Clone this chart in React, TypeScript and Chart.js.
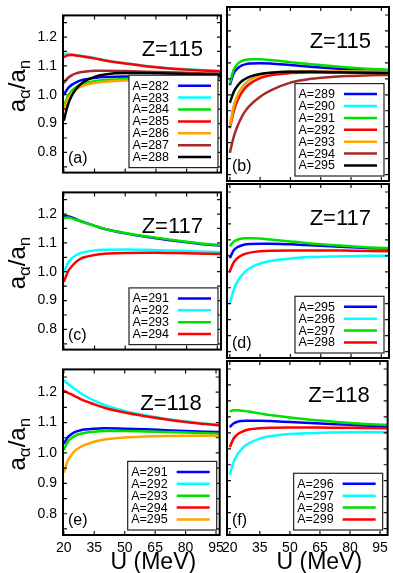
import React, { useEffect, useRef } from 'react';
import { Chart, registerables } from 'chart.js';

Chart.register(...registerables);

const FONT = '"Liberation Sans", Arial, Helvetica, sans-serif';

// Excitation energy grid (MeV) shared by every curve
const U_MEV = [20, 22, 24, 26, 28, 30, 35, 40, 50, 60, 70, 80, 90, 100];
const U_TICKS = [20, 35, 50, 65, 80, 95];
const RATIO_LABELS = [0.8, 0.9, 1.0, 1.1, 1.2];
const RATIO_MARKS = [0.75, 0.8, 0.85, 0.9, 0.95, 1.0, 1.05, 1.1, 1.15, 1.2, 1.25];

// (a) Z=115, lighter isotopes
const MASSES_A = [282, 283, 284, 285, 286, 287, 288];
const Z115_A282 = [1.000, 1.022, 1.035, 1.043, 1.049, 1.053, 1.058, 1.061, 1.063, 1.063, 1.063, 1.062, 1.062, 1.061];
const Z115_A283 = [1.140, 1.142, 1.140, 1.137, 1.135, 1.133, 1.127, 1.120, 1.109, 1.100, 1.093, 1.088, 1.084, 1.081];
const Z115_A284 = [0.960, 0.995, 1.015, 1.027, 1.035, 1.040, 1.047, 1.051, 1.054, 1.055, 1.056, 1.056, 1.056, 1.056];
const Z115_A285 = [1.130, 1.137, 1.138, 1.136, 1.134, 1.132, 1.126, 1.119, 1.108, 1.099, 1.092, 1.087, 1.083, 1.080];
const Z115_A286 = [0.948, 0.985, 1.005, 1.018, 1.027, 1.033, 1.041, 1.045, 1.049, 1.050, 1.051, 1.051, 1.051, 1.051];
const Z115_A287 = [1.040, 1.058, 1.068, 1.074, 1.078, 1.080, 1.083, 1.083, 1.082, 1.080, 1.078, 1.076, 1.074, 1.073];
const Z115_A288 = [0.910, 0.965, 0.998, 1.020, 1.035, 1.046, 1.062, 1.070, 1.075, 1.075, 1.074, 1.072, 1.070, 1.069];

// (b) Z=115, heavier isotopes
const MASSES_B = [289, 290, 291, 292, 293, 294, 295];
const Z115_A289 = [1.030, 1.068, 1.084, 1.092, 1.096, 1.098, 1.099, 1.098, 1.093, 1.088, 1.083, 1.079, 1.076, 1.074];
const Z115_A290 = [0.905, 0.967, 1.001, 1.023, 1.037, 1.047, 1.061, 1.068, 1.073, 1.074, 1.074, 1.073, 1.072, 1.071];
const Z115_A291 = [1.035, 1.080, 1.098, 1.106, 1.110, 1.111, 1.111, 1.109, 1.102, 1.096, 1.090, 1.085, 1.081, 1.078];
const Z115_A292 = [0.895, 0.950, 0.985, 1.008, 1.024, 1.035, 1.052, 1.061, 1.068, 1.070, 1.070, 1.070, 1.069, 1.068];
const Z115_A293 = [0.900, 0.965, 1.000, 1.022, 1.037, 1.047, 1.061, 1.068, 1.073, 1.074, 1.074, 1.073, 1.072, 1.071];
const Z115_A294 = [0.818, 0.870, 0.905, 0.932, 0.952, 0.967, 0.994, 1.013, 1.038, 1.050, 1.056, 1.059, 1.061, 1.062];
const Z115_A295 = [0.975, 1.010, 1.030, 1.043, 1.051, 1.057, 1.065, 1.069, 1.072, 1.072, 1.071, 1.070, 1.069, 1.068];

// (c) Z=117
const MASSES_C = [291, 292, 293, 294];
const Z117_A291 = [1.193, 1.192, 1.188, 1.182, 1.176, 1.171, 1.159, 1.148, 1.133, 1.121, 1.111, 1.102, 1.094, 1.088];
const Z117_A292 = [0.997, 1.030, 1.047, 1.057, 1.064, 1.068, 1.074, 1.076, 1.077, 1.076, 1.074, 1.072, 1.069, 1.067];
const Z117_A293 = [1.186, 1.188, 1.185, 1.180, 1.175, 1.170, 1.159, 1.148, 1.134, 1.123, 1.113, 1.104, 1.096, 1.090];
const Z117_A294 = [0.965, 1.000, 1.020, 1.034, 1.044, 1.050, 1.058, 1.062, 1.065, 1.066, 1.065, 1.064, 1.062, 1.061];

// (d) Z=117
const MASSES_D = [295, 296, 297, 298];
const Z117_A295 = [1.043, 1.068, 1.078, 1.083, 1.086, 1.087, 1.088, 1.088, 1.086, 1.083, 1.080, 1.077, 1.074, 1.072];
const Z117_A296 = [0.900, 0.945, 0.972, 0.990, 1.003, 1.012, 1.026, 1.034, 1.042, 1.046, 1.048, 1.049, 1.050, 1.050];
const Z117_A297 = [1.080, 1.095, 1.101, 1.104, 1.105, 1.105, 1.104, 1.101, 1.095, 1.089, 1.084, 1.080, 1.076, 1.074];
const Z117_A298 = [1.002, 1.030, 1.044, 1.052, 1.057, 1.060, 1.064, 1.066, 1.067, 1.067, 1.067, 1.066, 1.065, 1.064];

// (e) Z=118
const MASSES_E = [291, 292, 293, 294, 295];
const Z118_A291 = [1.030, 1.052, 1.063, 1.070, 1.074, 1.077, 1.080, 1.081, 1.080, 1.078, 1.075, 1.072, 1.070, 1.068];
const Z118_A292 = [1.240, 1.228, 1.218, 1.208, 1.198, 1.190, 1.172, 1.158, 1.138, 1.124, 1.113, 1.104, 1.096, 1.090];
const Z118_A293 = [1.010, 1.037, 1.050, 1.058, 1.063, 1.066, 1.070, 1.072, 1.072, 1.071, 1.069, 1.067, 1.065, 1.063];
const Z118_A294 = [1.205, 1.198, 1.192, 1.185, 1.178, 1.172, 1.160, 1.149, 1.133, 1.121, 1.111, 1.102, 1.095, 1.088];
const Z118_A295 = [0.935, 0.975, 0.996, 1.010, 1.019, 1.026, 1.037, 1.044, 1.051, 1.054, 1.056, 1.057, 1.057, 1.057];

// (f) Z=118
const MASSES_F = [296, 297, 298, 299];
const Z118_A296 = [1.068, 1.080, 1.085, 1.087, 1.088, 1.088, 1.088, 1.087, 1.084, 1.081, 1.078, 1.075, 1.072, 1.070];
const Z118_A297 = [0.918, 0.960, 0.984, 1.000, 1.011, 1.019, 1.032, 1.039, 1.046, 1.049, 1.051, 1.052, 1.052, 1.052];
const Z118_A298 = [1.117, 1.121, 1.121, 1.119, 1.118, 1.116, 1.111, 1.106, 1.098, 1.091, 1.086, 1.081, 1.077, 1.074];
const Z118_A299 = [1.005, 1.033, 1.046, 1.053, 1.058, 1.061, 1.064, 1.066, 1.067, 1.067, 1.066, 1.066, 1.065, 1.064];

const LINE_COLORS = ['#0000ff', '#00ffff', '#00e000', '#ff0000', '#ffa500', '#a52a2a', '#000000'];

type PanelSpec = { tag: string; z: number; masses: number[]; series: number[][]; row: number; col: number };

const PANELS: PanelSpec[] = [
  { tag: '(a)', z: 115, masses: MASSES_A, series: [Z115_A282, Z115_A283, Z115_A284, Z115_A285, Z115_A286, Z115_A287, Z115_A288], row: 0, col: 0 },
  { tag: '(b)', z: 115, masses: MASSES_B, series: [Z115_A289, Z115_A290, Z115_A291, Z115_A292, Z115_A293, Z115_A294, Z115_A295], row: 0, col: 1 },
  { tag: '(c)', z: 117, masses: MASSES_C, series: [Z117_A291, Z117_A292, Z117_A293, Z117_A294], row: 1, col: 0 },
  { tag: '(d)', z: 117, masses: MASSES_D, series: [Z117_A295, Z117_A296, Z117_A297, Z117_A298], row: 1, col: 1 },
  { tag: '(e)', z: 118, masses: MASSES_E, series: [Z118_A291, Z118_A292, Z118_A293, Z118_A294, Z118_A295], row: 2, col: 0 },
  { tag: '(f)', z: 118, masses: MASSES_F, series: [Z118_A296, Z118_A297, Z118_A298, Z118_A299], row: 2, col: 1 },
];

// Plot-frame geometry of the 3x2 grid
const COL_LEFT = [63, 227];
const COL_WIDTH = [158, 162];
const COL_U_MIN = [19.6, 18.6];
const COL_U_MAX = [96.8, 98.8];
const ROW_TOP = [7, 184, 361];
const ROW_HEIGHT = 174;
const PAGE_W = 393;
const PAGE_H = 573;
const RATIO_MIN = 0.73;
const RATIO_MAX = 1.275;

function canvasBox(row: number, col: number) {
  const left = col === 0 ? 0 : 205;
  const right = col === 0 ? COL_LEFT[0] + COL_WIDTH[0] + 8 : PAGE_W;
  const top = ROW_TOP[row] - 6;
  const bottom = row === 2 ? PAGE_H : ROW_TOP[row] + ROW_HEIGHT + 6;
  return { left, top, width: right - left, height: bottom - top };
}

function drawYTitle(ctx: CanvasRenderingContext2D, cy: number) {
  const big = `24px ${FONT}`;
  const small = `17px ${FONT}`;
  const parts = [
    { t: 'a', f: big, dy: 0 },
    { t: 'α', f: small, dy: 5 },
    { t: '/', f: big, dy: 0 },
    { t: 'a', f: big, dy: 0 },
    { t: 'n', f: small, dy: 5 },
  ];
  let total = 0;
  const widths = parts.map((p) => {
    ctx.font = p.f;
    const w = ctx.measureText(p.t).width;
    total += w;
    return w;
  });
  ctx.save();
  ctx.translate(25, cy);
  ctx.rotate(-Math.PI / 2);
  ctx.fillStyle = '#000';
  ctx.textAlign = 'left';
  ctx.textBaseline = 'alphabetic';
  let x = -total / 2;
  parts.forEach((p, i) => {
    ctx.font = p.f;
    ctx.fillText(p.t, x, p.dy);
    x += widths[i];
  });
  ctx.restore();
}

function panelDecor(spec: PanelSpec) {
  return {
    id: 'panelDecor',
    afterDatasetsDraw(chart: any) {
      const { ctx, chartArea: a, scales } = chart;
      const xs = scales.x;
      const ys = scales.y;
      const tick = 4;
      ctx.save();

      // inward ticks on all four sides
      ctx.strokeStyle = '#111';
      ctx.lineWidth = 1.2;
      ctx.beginPath();
      U_TICKS.forEach((u) => {
        const px = xs.getPixelForValue(u);
        ctx.moveTo(px, a.bottom);
        ctx.lineTo(px, a.bottom - tick);
        ctx.moveTo(px, a.top);
        ctx.lineTo(px, a.top + tick);
      });
      RATIO_MARKS.forEach((r) => {
        const py = ys.getPixelForValue(r);
        ctx.moveTo(a.left, py);
        ctx.lineTo(a.left + tick, py);
        ctx.moveTo(a.right, py);
        ctx.lineTo(a.right - tick, py);
      });
      ctx.stroke();

      // frame
      ctx.lineWidth = 2;
      ctx.strokeStyle = '#000';
      ctx.strokeRect(a.left, a.top, a.right - a.left, a.bottom - a.top);

      // nucleus label
      ctx.fillStyle = '#000';
      ctx.font = `22px ${FONT}`;
      ctx.textAlign = 'right';
      ctx.textBaseline = 'alphabetic';
      ctx.fillText(`Z=${spec.z}`, a.right - 18, a.top + 41);

      // panel tag
      ctx.font = `16px ${FONT}`;
      ctx.textAlign = 'left';
      ctx.textBaseline = 'middle';
      ctx.fillText(spec.tag, a.left + 5, a.bottom - 14);

      // legend box
      const ds = chart.data.datasets;
      const n = ds.length;
      const rowH = 11.9;
      const pad = 10.5;
      const boxW = 89;
      const boxH = (n - 1) * rowH + 2 * pad;
      const bRight = a.right - (spec.col === 0 ? 3 : 5);
      const bBottom = a.bottom - 5;
      const bLeft = bRight - boxW;
      const bTop = bBottom - boxH;
      ctx.fillStyle = '#fff';
      ctx.fillRect(bLeft, bTop, boxW, boxH);
      ctx.lineWidth = 1.2;
      ctx.strokeStyle = '#222';
      ctx.strokeRect(bLeft, bTop, boxW, boxH);
      ctx.font = `12.5px ${FONT}`;
      ctx.textAlign = 'left';
      ctx.textBaseline = 'middle';
      ds.forEach((d: any, i: number) => {
        const y = bTop + pad + i * rowH;
        ctx.fillStyle = '#000';
        ctx.fillText(d.label, bLeft + 3.5, y + 0.5);
        ctx.strokeStyle = d.borderColor;
        ctx.lineWidth = 2.5;
        ctx.beginPath();
        ctx.moveTo(bRight - 40, y);
        ctx.lineTo(bRight - 7, y);
        ctx.stroke();
      });

      // axis titles
      if (spec.col === 0) drawYTitle(ctx, (a.top + a.bottom) / 2 - 8);
      if (spec.row === 2) {
        ctx.fillStyle = '#000';
        ctx.font = `23px ${FONT}`;
        ctx.textAlign = 'center';
        ctx.textBaseline = 'alphabetic';
        ctx.fillText('U (MeV)', (a.left + a.right) / 2 + 12, a.bottom + 34);
      }
      ctx.restore();
    },
  };
}

function Panel({ spec }: { spec: PanelSpec }) {
  const ref = useRef<HTMLCanvasElement>(null);
  const box = canvasBox(spec.row, spec.col);

  useEffect(() => {
    const canvas = ref.current;
    if (!canvas) return;
    const { row, col } = spec;
    const showY = col === 0;
    const showX = row === 2;
    const areaLeft = COL_LEFT[col] - box.left;
    const areaRight = box.left + box.width - (COL_LEFT[col] + COL_WIDTH[col]);
    const areaTop = ROW_TOP[row] - box.top;
    const areaBottom = box.top + box.height - (ROW_TOP[row] + ROW_HEIGHT);

    const chart = new Chart(canvas, {
      type: 'line',
      data: {
        datasets: spec.masses.map((a, i) => ({
          label: `A=${a}`,
          data: U_MEV.map((u, k) => ({ x: u, y: spec.series[i][k] })),
          borderColor: LINE_COLORS[i],
          backgroundColor: LINE_COLORS[i],
          borderWidth: 2.5,
          pointRadius: 0,
          fill: false,
          cubicInterpolationMode: 'monotone' as const,
          order: spec.masses.length - i,
        })),
      },
      options: {
        animation: false,
        responsive: false,
        maintainAspectRatio: false,
        events: [],
        layout: {
          autoPadding: false,
          padding: {
            left: showY ? 0 : areaLeft,
            right: areaRight,
            top: areaTop,
            bottom: showX ? 0 : areaBottom,
          },
        },
        plugins: {
          legend: { display: false },
          tooltip: { enabled: false },
          title: { display: false },
        },
        scales: {
          x: {
            type: 'linear',
            min: COL_U_MIN[col],
            max: COL_U_MAX[col],
            display: showX,
            afterBuildTicks: (s: any) => {
              s.ticks = U_TICKS.map((v) => ({ value: v }));
            },
            afterFit: (s: any) => {
              if (showX) s.height = areaBottom;
            },
            grid: { display: false, drawTicks: false },
            border: { display: false },
            ticks: {
              autoSkip: false,
              maxRotation: 0,
              minRotation: 0,
              padding: 5,
              color: '#000',
              font: { family: FONT, size: 14 },
              callback: (v: any) => String(v),
            },
          },
          y: {
            type: 'linear',
            min: RATIO_MIN,
            max: RATIO_MAX,
            display: showY,
            afterBuildTicks: (s: any) => {
              s.ticks = RATIO_LABELS.map((v) => ({ value: v }));
            },
            afterFit: (s: any) => {
              if (showY) s.width = areaLeft;
            },
            grid: { display: false, drawTicks: false },
            border: { display: false },
            ticks: {
              autoSkip: false,
              padding: 6,
              color: '#000',
              font: { family: FONT, size: 14 },
              callback: (v: any) => Number(v).toFixed(1),
            },
          },
        },
      },
      plugins: [panelDecor(spec)],
    } as any);
    return () => chart.destroy();
  }, []);

  return (
    <canvas
      ref={ref}
      width={box.width}
      height={box.height}
      style={{ position: 'absolute', left: box.left, top: box.top, width: box.width, height: box.height }}
    />
  );
}

export default function App() {
  return (
    <div
      style={{
        position: 'absolute',
        left: 0,
        top: 0,
        width: PAGE_W,
        height: PAGE_H,
        overflow: 'hidden',
        background: '#fff',
      }}
    >
      {PANELS.map((p) => (
        <Panel key={p.tag} spec={p} />
      ))}
    </div>
  );
}
